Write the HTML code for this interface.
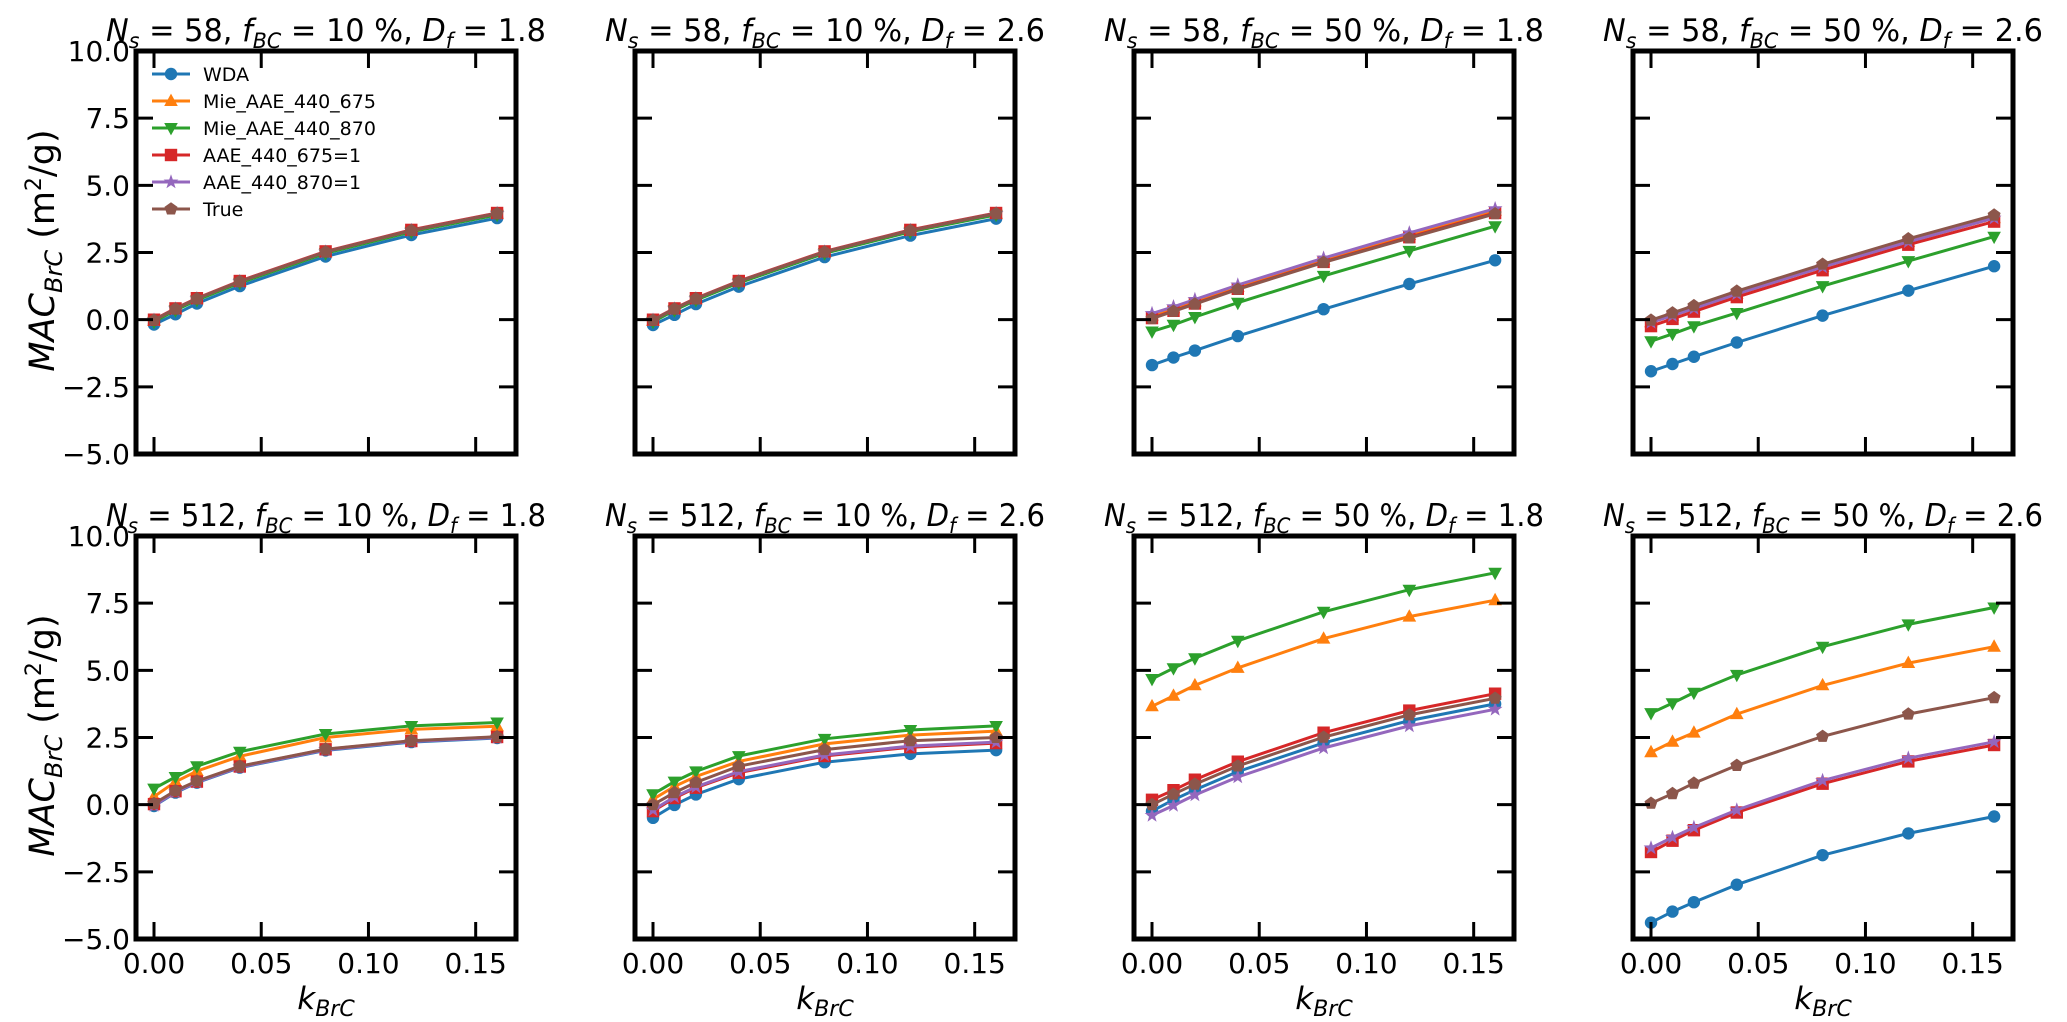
<!DOCTYPE html>
<html><head><meta charset="utf-8"><style>
html,body{margin:0;padding:0;background:#fff;}
svg{display:block;font-family:"DejaVu Sans","Liberation Sans",sans-serif;}
</style></head><body>
<svg id="fig" width="2067" height="1022" viewBox="0 0 2067 1022" xmlns="http://www.w3.org/2000/svg"></svg>
<script>
const kValues = [0, 0.01, 0.02, 0.04, 0.08, 0.12, 0.16];
const seriesNames = ["WDA","Mie_AAE_440_675","Mie_AAE_440_870","AAE_440_675=1","AAE_440_870=1","True"];
const xTicks = [0, 0.05, 0.10, 0.15];
const xTickLabels = ["0.00","0.05","0.10","0.15"];
const yTicks = [-5, -2.5, 0, 2.5, 5, 7.5, 10];
const yTickLabels = ["\u22125.0","\u22122.5","0.0","2.5","5.0","7.5","10.0"];
const panelNs = ["58","58","58","58","512","512","512","512"];
const panelFbc = ["10","10","50","50","10","10","50","50"];
const panelDf = ["1.8","2.6","1.8","2.6","1.8","2.6","1.8","2.6"];
// values per panel: [WDA, Mie675, Mie870, AAE675, AAE870, True]
const p1 = [[-0.18,0.2,0.6,1.25,2.35,3.15,3.78],[-0.05,0.38,0.76,1.4,2.5,3.3,3.93],[-0.08,0.35,0.73,1.37,2.47,3.27,3.9],[0,0.42,0.8,1.44,2.54,3.34,3.97],[-0.02,0.4,0.78,1.42,2.52,3.32,3.95],[-0.02,0.4,0.78,1.42,2.52,3.32,3.95]];
const p2 = [[-0.2,0.18,0.58,1.23,2.33,3.13,3.76],[-0.05,0.38,0.76,1.4,2.5,3.3,3.93],[-0.08,0.35,0.73,1.37,2.47,3.27,3.9],[0,0.42,0.8,1.44,2.54,3.34,3.97],[-0.02,0.4,0.78,1.42,2.52,3.32,3.95],[-0.02,0.4,0.78,1.42,2.52,3.32,3.95]];
const p3 = [[-1.69,-1.41,-1.15,-0.61,0.39,1.33,2.21],[0.15,0.42,0.68,1.22,2.22,3.15,4.05],[-0.44,-0.19,0.1,0.63,1.63,2.56,3.48],[0.06,0.33,0.6,1.15,2.15,3.07,3.97],[0.23,0.48,0.75,1.29,2.29,3.23,4.13],[0.04,0.31,0.58,1.13,2.13,3.04,3.94]];
const p4 = [[-1.92,-1.65,-1.38,-0.85,0.15,1.08,1.99],[-0.1,0.15,0.42,0.96,1.96,2.9,3.78],[-0.8,-0.53,-0.24,0.25,1.25,2.18,3.09],[-0.24,0.03,0.3,0.84,1.84,2.79,3.65],[-0.1,0.15,0.42,0.96,1.96,2.9,3.78],[-0.02,0.25,0.52,1.06,2.06,3.01,3.89]];
const p5 = [[-0.05,0.45,0.82,1.38,2.02,2.33,2.48],[0.3,0.85,1.25,1.8,2.5,2.8,2.92],[0.6,1.03,1.43,1.97,2.63,2.93,3.06],[0.02,0.5,0.86,1.42,2.06,2.37,2.52],[-0.03,0.47,0.84,1.4,2.04,2.35,2.5],[0.04,0.52,0.88,1.43,2.07,2.38,2.53]];
const p6 = [[-0.49,-0.01,0.38,0.95,1.58,1.89,2.03],[0.2,0.68,1.05,1.61,2.26,2.59,2.74],[0.39,0.86,1.24,1.81,2.45,2.78,2.93],[-0.24,0.25,0.63,1.19,1.81,2.14,2.29],[-0.2,0.29,0.66,1.23,1.85,2.18,2.33],[0,0.45,0.83,1.43,2.05,2.38,2.5]];
const p7 = [[-0.24,0.18,0.55,1.23,2.3,3.13,3.75],[3.66,4.05,4.44,5.09,6.18,7.0,7.61],[4.68,5.08,5.45,6.1,7.18,8.0,8.63],[0.18,0.54,0.93,1.6,2.68,3.5,4.13],[-0.4,-0.03,0.36,1.03,2.11,2.93,3.55],[0,0.39,0.76,1.44,2.51,3.34,3.96]];
const p8 = [[-4.39,-3.98,-3.63,-2.98,-1.88,-1.07,-0.44],[1.95,2.34,2.68,3.37,4.44,5.27,5.88],[3.41,3.78,4.17,4.83,5.88,6.71,7.34],[-1.76,-1.34,-0.95,-0.29,0.78,1.61,2.22],[-1.61,-1.22,-0.85,-0.2,0.9,1.73,2.34],[0.05,0.41,0.8,1.46,2.54,3.37,3.98]];
const panelData = [p1,p2,p3,p4,p5,p6,p7,p8];

const colors = ["#1f77b4","#ff7f0e","#2ca02c","#d62728","#9467bd","#8c564b"];
const markers = ["o","^","v","s","*","p"];
const NS = "http://www.w3.org/2000/svg";
const svg = document.getElementById("fig");
const lefts = [136, 635, 1134, 1633], tops = [51, 536], W = 380, H = 403;
const XMIN = -0.0084, XMAX = 0.1688, YMIN = -5, YMAX = 10;

function mk(tag, attrs, parent) {
  const e = document.createElementNS(NS, tag);
  for (const k in attrs) e.setAttribute(k, attrs[k]);
  (parent || svg).appendChild(e);
  return e;
}
function markerEl(type, cx, cy, color, parent) {
  const r = 6.2;
  let e;
  if (type === "o") e = mk("circle", {cx: cx, cy: cy, r: r, fill: color}, parent);
  else {
    let pts = [];
    if (type === "^") pts = [[0,-r*1.2],[r*1.1,r*0.8],[-r*1.1,r*0.8]];
    else if (type === "v") pts = [[0,r*1.2],[r*1.1,-r*0.8],[-r*1.1,-r*0.8]];
    else if (type === "s") pts = [[-r,-r],[r,-r],[r,r],[-r,r]];
    else if (type === "p") { for (let i=0;i<5;i++){const a=-Math.PI/2+i*2*Math.PI/5; pts.push([r*1.1*Math.cos(a), r*1.1*Math.sin(a)]);} }
    else if (type === "*") { for (let i=0;i<10;i++){const a=-Math.PI/2+i*Math.PI/5; const rr=i%2?r*0.5:r*1.25; pts.push([rr*Math.cos(a), rr*Math.sin(a)]);} }
    e = mk("polygon", {points: pts.map(p => (cx+p[0]).toFixed(1)+","+(cy+p[1]).toFixed(1)).join(" "), fill: color}, parent);
  }
  return e;
}

for (let pi = 0; pi < 8; pi++) {
  const row = Math.floor(pi / 4), col = pi % 4;
  const L = lefts[col], T = tops[row];
  const sx = v => L + (v - XMIN) / (XMAX - XMIN) * W;
  const sy = v => T + (YMAX - v) / (YMAX - YMIN) * H;
  const g = mk("g", {});
  
  

  const t = mk("text", {x: L + W/2, y: T - 10, "text-anchor": "middle", "font-size": 31, fill: "#000", textLength: 440, lengthAdjust: "spacingAndGlyphs"}, g);
  
  
  t.innerHTML = '<tspan font-style="italic">N</tspan><tspan font-style="italic" font-size="21" dy="7">s</tspan><tspan dy="-7"> = ' + panelNs[pi] + ', </tspan><tspan font-style="italic">f</tspan><tspan font-style="italic" font-size="21" dy="7">BC</tspan><tspan dy="-7"> = ' + panelFbc[pi] + ' %, </tspan><tspan font-style="italic">D</tspan><tspan font-style="italic" font-size="21" dy="7">f</tspan><tspan dy="-7"> = ' + panelDf[pi] + '</tspan>';

  for (let s = 0; s < 6; s++) {
    const sg = mk("g", {}, g);
    
    
    const vals = panelData[pi][s];
    const pts = kValues.map((k, i) => sx(k).toFixed(1) + "," + sy(vals[i]).toFixed(1)).join(" ");
    const pl = mk("polyline", {points: pts, fill: "none", stroke: colors[s], "stroke-width": 3}, sg);
    
    
    kValues.forEach((k, i) => {
      const m = markerEl(markers[s], sx(k), sy(vals[i]), colors[s], sg);
      
      
    });
  }

  yTicks.forEach((v, i) => {
    const y = sy(v);
    const tl = mk("line", {x1: L, x2: L + 17, y1: y, y2: y, stroke: "#000", "stroke-width": 3}, g);
    
    
    const tr = mk("line", {x1: L + W - 17, x2: L + W, y1: y, y2: y, stroke: "#000", "stroke-width": 3}, g);
    
    
    if (col === 0) {
      const lb = mk("text", {x: L - 6, y: y + 10, "text-anchor": "end", "font-size": 28, fill: "#000"}, g);
      
      
      lb.textContent = yTickLabels[i];
    }
  });
  xTicks.forEach((v, i) => {
    const x = sx(v);
    const tb = mk("line", {x1: x, x2: x, y1: T + H, y2: T + H - 17, stroke: "#000", "stroke-width": 3}, g);
    
    
    const tt = mk("line", {x1: x, x2: x, y1: T, y2: T + 17, stroke: "#000", "stroke-width": 3}, g);
    
    
    if (row === 1) {
      const lb = mk("text", {x: x, y: T + H + 34, "text-anchor": "middle", "font-size": 28, fill: "#000"}, g);
      
      
      lb.textContent = xTickLabels[i];
    }
  });

  const fr = mk("rect", {x: L, y: T, width: W, height: H, fill: "none", stroke: "#000", "stroke-width": 5}, g);
  
  

  if (row === 1) {
    const xl = mk("text", {x: L + W/2, y: T + H + 70, "text-anchor": "middle", "font-size": 31, "font-style": "italic", fill: "#000"}, g);
    
    
    xl.innerHTML = 'k<tspan font-size="22" dy="7">BrC</tspan>';
  }
  if (col === 0) {
    const cy = T + H/2 - 2;
    const yl = mk("text", {x: 0, y: 0, transform: "translate(54," + cy + ") rotate(-90)", "text-anchor": "middle", "font-size": 35, fill: "#000"}, g);
    
    
    yl.innerHTML = '<tspan font-style="italic">MAC</tspan><tspan font-style="italic" font-size="24" dy="8">BrC</tspan><tspan dy="-8"> (m</tspan><tspan font-size="22" dy="-13">2</tspan><tspan dy="13">/g)</tspan>';
  }

  if (pi === 0) {
    const lg = mk("g", {}, g);
    
    
    for (let s = 0; s < 6; s++) {
      const y = 74 + s * 27;
      const eg = mk("g", {}, lg);
      
      
      mk("line", {x1: 152, x2: 190, y1: y, y2: y, stroke: colors[s], "stroke-width": 3}, eg);
      markerEl(markers[s], 171, y, colors[s], eg);
      const tx = mk("text", {x: 203, y: y + 7, "font-size": 19, fill: "#000"}, eg);
      tx.textContent = seriesNames[s];
    }
  }
}
</script>
</body></html>
